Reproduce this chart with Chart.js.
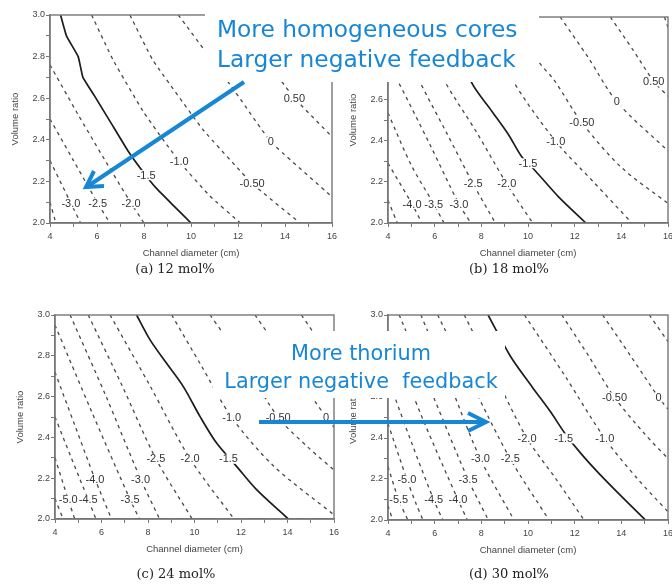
<!DOCTYPE html>
<html>
<head>
<meta charset="utf-8">
<title>Reactivity feedback contours</title>
<script src="https://cdn.jsdelivr.net/npm/chart.js"></script>
<style>
  body { margin: 0; background: #fff; width: 672px; height: 584px; overflow: hidden; position: relative; }
  canvas { position: absolute; }
  #notes { position: absolute; left: 0; top: 0; }
</style>
</head>
<body>
<canvas id="p12"></canvas>
<canvas id="p18"></canvas>
<canvas id="p24"></canvas>
<canvas id="p30"></canvas>
<svg id="notes" width="672" height="584" xmlns="http://www.w3.org/2000/svg"></svg>
<script>
// axis ranges (channel diameter in cm, volume ratio)
const xRange = [4, 16];
const yRange = [2.0, 3.0];

// contour lines per salt composition: [level, [[diameter, ratio], ...]]
const contours12 = [
  [-3.5, [[4.0, 2.10], [4.25, 2.0]]],
  [-3.0, [[4.0, 2.30], [4.89, 2.095], [5.3, 2.0]]],
  [-2.5, [[4.0, 2.50], [5.0, 2.30], [6.03, 2.095], [6.55, 2.0]]],
  [-2.0, [[4.0, 2.76], [5.2, 2.52], [6.4, 2.29], [7.45, 2.095], [8.0, 2.0]]],
  [-1.5, [[4.45, 3.0], [4.7, 2.9], [5.2, 2.8], [5.4, 2.7], [5.9, 2.61], [6.6, 2.48], [7.3, 2.35], [7.9, 2.255], [8.5, 2.17], [9.2, 2.09], [10.0, 2.0]]],
  [-1.0, [[5.77, 3.0], [6.7, 2.78], [8.0, 2.53], [9.5, 2.295], [10.8, 2.13], [12.1, 2.0]]],
  [-0.5, [[7.4, 3.0], [8.37, 2.784], [10.5, 2.45], [12.6, 2.19], [14.64, 2.0]]],
  [0.0, [[9.46, 3.0], [11.73, 2.655], [13.4, 2.39], [16.0, 2.126]]],
  [0.5, [[11.8, 3.0], [13.86, 2.68], [14.4, 2.6], [16.0, 2.415]]]
];
const labels12 = [
  ['-3.0', 4.89, 2.095], ['-2.5', 6.03, 2.095], ['-2.0', 7.45, 2.095],
  ['-1.5', 8.09, 2.23], ['-1.0', 9.5, 2.295], ['-0.50', 12.6, 2.19],
  ['0', 13.4, 2.39], ['0.50', 14.4, 2.6]
];

const contours18 = [
  [-4.5, [[4.0, 2.11], [4.4, 2.0]]],
  [-4.0, [[4.0, 2.29], [5.03, 2.092], [5.45, 2.0]]],
  [-3.5, [[4.0, 2.534], [5.0, 2.28], [5.96, 2.092], [6.4, 2.0]]],
  [-3.0, [[4.0, 2.77], [4.39, 2.696], [5.8, 2.38], [7.04, 2.092], [7.55, 2.0]]],
  [-2.5, [[4.1, 3.0], [5.32, 2.696], [6.5, 2.44], [7.65, 2.19], [8.6, 2.0]]],
  [-2.0, [[5.1, 3.0], [6.39, 2.696], [7.8, 2.44], [9.09, 2.19], [10.2, 2.0]]],
  [-1.5, [[6.4, 3.0], [7.59, 2.68], [8.45, 2.543], [9.16, 2.43], [9.74, 2.32], [10.3, 2.255], [11.31, 2.127], [12.48, 2.0]]],
  [-1.0, [[8.1, 3.0], [9.33, 2.696], [11.19, 2.396], [12.8, 2.2], [14.45, 2.0]]],
  [-0.5, [[9.4, 3.0], [10.46, 2.783], [11.12, 2.694], [12.31, 2.487], [14.0, 2.27], [16.0, 2.095]]],
  [0.0, [[11.38, 3.0], [12.6, 2.8], [13.81, 2.588], [16.0, 2.35]]],
  [0.5, [[13.53, 3.0], [14.5, 2.84], [15.39, 2.688], [16.0, 2.615]]],
  [1.0, [[15.85, 3.0], [16.0, 2.95]]]
];
const labels18 = [
  ['-4.0', 5.03, 2.092], ['-3.5', 5.96, 2.092], ['-3.0', 7.04, 2.092],
  ['-2.5', 7.65, 2.19], ['-2.0', 9.09, 2.19], ['-1.5', 10.0, 2.29],
  ['-1.0', 11.19, 2.396], ['-0.50', 12.31, 2.487], ['0', 13.81, 2.588],
  ['0.50', 15.39, 2.688]
];

const contours24 = [
  [-5.5, [[4.0, 2.10], [4.35, 2.0]]],
  [-5.0, [[4.0, 2.30], [4.57, 2.095], [4.85, 2.0]]],
  [-4.5, [[4.0, 2.50], [4.7, 2.3], [5.43, 2.095], [5.76, 2.0]]],
  [-4.0, [[4.0, 2.72], [4.85, 2.46], [5.72, 2.196], [6.43, 2.0]]],
  [-3.5, [[4.0, 2.95], [5.6, 2.52], [7.23, 2.095], [7.63, 2.0]]],
  [-3.0, [[4.65, 3.0], [6.2, 2.6], [7.68, 2.196], [8.5, 2.0]]],
  [-2.5, [[5.43, 3.0], [6.9, 2.65], [8.34, 2.295], [9.9, 2.0]]],
  [-2.0, [[6.37, 3.0], [8.1, 2.65], [9.81, 2.295], [11.7, 2.0]]],
  [-1.5, [[7.51, 3.0], [8.09, 2.878], [8.8, 2.763], [9.52, 2.649], [10.24, 2.502], [10.95, 2.372], [11.81, 2.258], [12.67, 2.144], [14.04, 2.0]]],
  [-1.0, [[9.02, 3.0], [10.3, 2.75], [11.6, 2.498], [13.4, 2.26], [16.0, 2.02]]],
  [-0.5, [[10.67, 3.0], [12.15, 2.76], [13.6, 2.498], [14.9, 2.35], [16.0, 2.24]]],
  [0.0, [[12.6, 3.0], [14.2, 2.74], [15.66, 2.498], [16.0, 2.45]]],
  [0.5, [[14.6, 3.0], [15.5, 2.85], [16.0, 2.77]]]
];
const labels24 = [
  ['-5.0', 4.57, 2.095], ['-4.5', 5.43, 2.095], ['-3.5', 7.23, 2.095],
  ['-4.0', 5.72, 2.196], ['-3.0', 7.68, 2.196], ['-2.5', 8.34, 2.295],
  ['-2.0', 9.81, 2.295], ['-1.5', 11.46, 2.295], ['-1.0', 11.6, 2.498],
  ['-0.50', 13.6, 2.498], ['0', 15.66, 2.498]
];

const contours30 = [
  [-6.0, [[4.0, 2.07], [4.2, 2.0]]],
  [-5.5, [[4.0, 2.26], [4.46, 2.098], [4.85, 2.0]]],
  [-5.0, [[4.0, 2.47], [4.81, 2.198], [5.2, 2.08], [5.5, 2.0]]],
  [-4.5, [[4.0, 2.69], [5.0, 2.38], [5.96, 2.098], [6.35, 2.0]]],
  [-4.0, [[4.0, 2.92], [5.5, 2.49], [7.0, 2.098], [7.4, 2.0]]],
  [-3.5, [[4.48, 3.0], [5.95, 2.6], [7.43, 2.198], [8.3, 2.0]]],
  [-3.0, [[5.41, 3.0], [6.7, 2.65], [7.96, 2.298], [9.4, 2.0]]],
  [-2.5, [[6.13, 3.0], [7.7, 2.64], [9.24, 2.298], [10.9, 2.0]]],
  [-2.0, [[7.27, 3.0], [8.6, 2.7], [9.96, 2.398], [11.2, 2.2], [12.4, 2.0]]],
  [-1.5, [[8.29, 3.0], [9.24, 2.8], [10.17, 2.65], [10.95, 2.53], [11.6, 2.42], [12.3, 2.32], [13.1, 2.22], [14.05, 2.11], [15.03, 2.0]]],
  [-1.0, [[9.85, 3.0], [11.6, 2.7], [13.29, 2.398], [14.7, 2.2], [16.0, 2.04]]],
  [-0.5, [[11.45, 3.0], [12.6, 2.8], [13.71, 2.598], [15.0, 2.42], [16.0, 2.3]]],
  [0.0, [[13.2, 3.0], [14.4, 2.8], [15.6, 2.598], [16.0, 2.54]]],
  [0.5, [[15.2, 3.0], [16.0, 2.87]]]
];
const labels30 = [
  ['-5.5', 4.46, 2.098], ['-4.5', 5.96, 2.098], ['-4.0', 7.0, 2.098],
  ['-5.0', 4.81, 2.198], ['-3.5', 7.43, 2.198], ['-3.0', 7.96, 2.298],
  ['-2.5', 9.24, 2.298], ['-2.0', 9.96, 2.398], ['-1.5', 11.53, 2.398],
  ['-1.0', 13.29, 2.398], ['-0.50', 13.71, 2.598], ['0', 15.6, 2.598]
];

const captions = ['(a) 12 mol%', '(b) 18 mol%', '(c) 24 mol%', '(d) 30 mol%'];

const AXIS_GREY = '#777';
const FONT = 'Liberation Sans, Arial, sans-serif';

// box around the plot area (top and right sides are not drawn by the axes)
const framePlugin = {
  id: 'frame',
  afterDatasetsDraw(chart) {
    const { ctx, chartArea: a } = chart;
    ctx.save();
    ctx.strokeStyle = AXIS_GREY;
    ctx.lineWidth = 1.4;
    ctx.strokeRect(a.left, a.top, a.right - a.left, a.bottom - a.top);
    ctx.restore();
  }
};

// contour level labels sitting in gaps of their lines
function levelLabels(list) {
  return {
    id: 'levelLabels',
    afterDatasetsDraw(chart) {
      const { ctx, chartArea: a } = chart;
      const xs = chart.scales.x, ys = chart.scales.y;
      ctx.save();
      ctx.beginPath();
      ctx.rect(a.left + 1, a.top + 1, a.right - a.left - 2, a.bottom - a.top - 2);
      ctx.clip();
      ctx.font = '11px ' + FONT;
      ctx.textAlign = 'center';
      ctx.textBaseline = 'middle';
      const spots = list.map(([t, x, y]) => [t, xs.getPixelForValue(x), ys.getPixelForValue(y)]);
      ctx.fillStyle = '#fff';
      spots.forEach(([t, px, py]) => {
        const w = ctx.measureText(t).width;
        ctx.fillRect(px - w / 2 - 1, py - 5, w + 2, 10);
      });
      ctx.fillStyle = '#333';
      spots.forEach(([t, px, py]) => ctx.fillText(t, px, py + 0.5));
      ctx.restore();
    }
  };
}

function makePanel(id, box, lines, labels, tension) {
  const cv = document.getElementById(id);
  cv.width = box.r - box.l + 64;
  cv.height = box.b - box.t + 55;
  cv.style.left = (box.l - 50) + 'px';
  cv.style.top = (box.t - 15) + 'px';

  const datasets = lines.map(([level, pts]) => {
    const main = level === -1.5;
    return {
      label: String(level),
      data: pts.map(([x, y]) => ({ x, y })),
      showLine: true,
      pointRadius: 0,
      borderColor: main ? '#1c1c1c' : '#484848',
      borderWidth: main ? 1.7 : 1.3,
      borderDash: main ? [] : [3.5, 4],
      tension: tension,
      fill: false
    };
  });

  const tickFont = { size: 9, family: FONT };
  new Chart(cv, {
    type: 'scatter',
    data: { datasets },
    options: {
      responsive: false,
      animation: false,
      events: [],
      layout: { padding: { left: 0, top: 15, right: 14, bottom: 0 } },
      plugins: { legend: { display: false }, tooltip: { enabled: false } },
      scales: {
        x: {
          type: 'linear', min: xRange[0], max: xRange[1],
          afterFit: s => { s.height = 40; },
          ticks: {
            stepSize: 1, autoSkip: false, maxRotation: 0, padding: 4,
            color: '#444', font: tickFont,
            callback: v => (v % 2 === 0 ? String(v) : '')
          },
          grid: { drawOnChartArea: false, tickLength: 4, tickColor: AXIS_GREY, color: AXIS_GREY },
          border: { color: AXIS_GREY, width: 1.4 },
          title: {
            display: true, text: 'Channel diameter (cm)', color: '#444',
            font: { size: 9.5, family: FONT }, padding: { top: 0, bottom: 4 }
          }
        },
        y: {
          type: 'linear', min: yRange[0], max: yRange[1],
          afterFit: s => { s.width = 50; },
          ticks: {
            stepSize: 0.1, autoSkip: false, padding: 1,
            color: '#444', font: tickFont,
            callback: v => (Math.round(v * 10) % 2 === 0 ? v.toFixed(1) : '')
          },
          grid: { drawOnChartArea: false, tickLength: 4, tickColor: AXIS_GREY, color: AXIS_GREY },
          border: { color: AXIS_GREY, width: 1.4 },
          title: {
            display: true, text: 'Volume ratio', color: '#444',
            font: { size: 9.5, family: FONT }, padding: { top: 10, bottom: 0 }
          }
        }
      }
    },
    plugins: [framePlugin, levelLabels(labels)]
  });
}

makePanel('p12', { l: 50, t: 15, r: 332, b: 223 }, contours12, labels12, 0.1);
makePanel('p18', { l: 388, t: 17, r: 668, b: 223 }, contours18, labels18, 0.3);
makePanel('p24', { l: 55, t: 315, r: 334, b: 519 }, contours24, labels24, 0.3);
makePanel('p30', { l: 388, t: 315, r: 668, b: 520 }, contours30, labels30, 0.3);

// captions and the blue annotations on top of the charts
const BLUE = '#1787d5';
const captionSpots = [[175, 273], [509, 273], [176, 578], [509, 578]];
const svg = document.getElementById('notes');
let html = '';
captions.forEach((c, i) => {
  html += `<text x="${captionSpots[i][0]}" y="${captionSpots[i][1]}" text-anchor="middle" font-family="DejaVu Serif" font-size="13" fill="#222">${c}</text>`;
});
html += `<rect x="205" y="0" width="334" height="82" fill="#fff"/>`;
html += `<rect x="213" y="331" width="292" height="67" fill="#fff"/>`;
html += `<g font-family="DejaVu Sans" fill="${BLUE}">
  <text x="217" y="37" font-size="23.3">More homogeneous cores</text>
  <text x="217" y="67" font-size="23.3">Larger negative feedback</text>
  <text x="361" y="360" font-size="20.8" text-anchor="middle">More thorium</text>
  <text x="361" y="388" font-size="20.8" text-anchor="middle" style="white-space:pre">Larger negative  feedback</text>
</g>`;
html += `<g stroke="${BLUE}" stroke-width="4" fill="none" stroke-linejoin="miter">
  <line x1="244" y1="82" x2="88" y2="186"/>
  <polyline points="104,186 86,187 94,171"/>
  <line x1="259" y1="422" x2="484" y2="422"/>
  <polyline points="468,413 486,422 468,431"/>
</g>`;
svg.innerHTML = html;
</script>
</body>
</html>
